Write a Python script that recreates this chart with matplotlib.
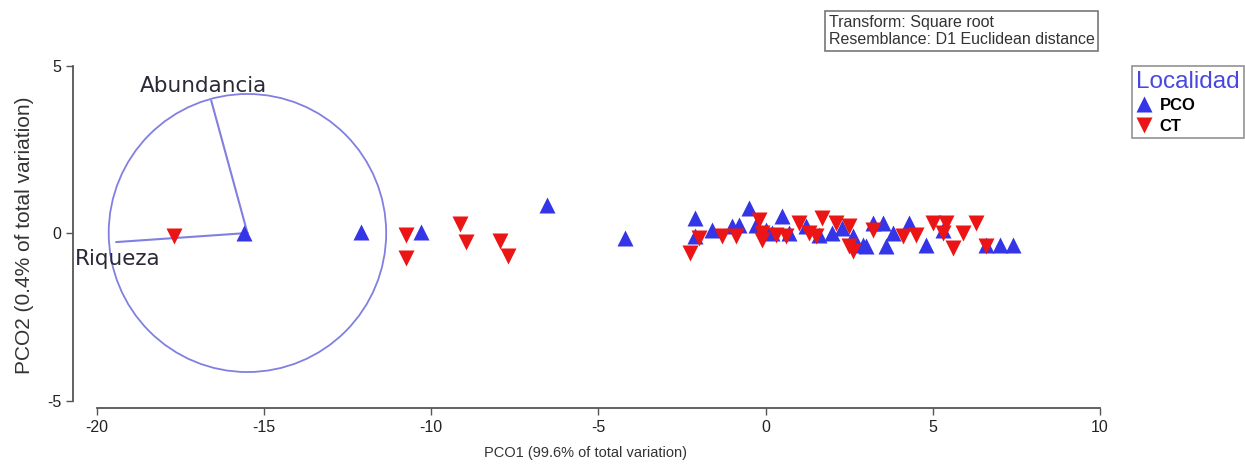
import numpy as np
import matplotlib.pyplot as plt
from matplotlib.patches import Circle
from matplotlib.lines import Line2D

# PCO scores
pco_x = [-15.6, -12.1, -10.3, -6.55, -4.2,
         -2.1, -2.1, -1.6, -1.0, -0.8, -0.5, -0.3, 0.0, 0.2, 0.5, 0.7,
         1.2, 1.6, 2.0, 2.3, 2.6, 2.9, 3.0, 3.2, 3.5, 3.6, 3.8, 4.3, 4.8,
         5.3, 6.6, 7.0, 7.4]
pco_y = [0.0, 0.03, 0.03, 0.85, -0.15,
         0.45, -0.1, 0.1, 0.2, 0.25, 0.75, 0.25, 0.1, 0.0, 0.5, 0.0,
         0.2, -0.05, 0.0, 0.15, -0.1, -0.35, -0.4, 0.3, 0.3, -0.4, 0.0, 0.3, -0.35,
         0.1, -0.35, -0.35, -0.35]

ct_x = [-17.7, -10.75, -10.75, -9.15, -8.95, -7.95, -7.7,
        -2.25, -2.0, -1.3, -0.9, -0.2, -0.1, -0.1, 0.3, 0.6, 1.0,
        1.3, 1.5, 1.7, 2.1, 2.5, 2.5, 2.6, 3.2, 4.1, 4.5, 5.0, 5.3,
        5.4, 5.6, 5.9, 6.3, 6.6]
ct_y = [-0.1, -0.05, -0.75, 0.28, -0.28, -0.25, -0.7,
        -0.6, -0.15, -0.1, -0.1, 0.4, 0.0, -0.2, -0.05, -0.1, 0.3,
        0.0, -0.1, 0.45, 0.3, 0.2, -0.4, -0.55, 0.1, -0.1, -0.05, 0.3, 0.0,
        0.3, -0.45, 0.0, 0.3, -0.4]

# vector overlay
centre = (-15.5, 0.0)
radius = 4.15
vec_names = ['Abundancia', 'Riqueza']
vec_dx = [-1.08, -3.92]
vec_dy = [3.94, -0.27]

xticks = [-20, -15, -10, -5, 0, 5, 10]
yticks = [-5, 0, 5]

blue = '#3535e8'
red = '#ec1515'
circ_col = '#8080e0'

plt.rcParams['font.family'] = ['Liberation Sans', 'DejaVu Sans']
plt.rcParams['axes.unicode_minus'] = False

fig = plt.figure(figsize=(12.45, 4.65), dpi=100)
ax = fig.add_axes([60 / 1245, 45 / 465, 1050 / 1245, 370 / 465])
ax.set_xlim(-21.107, 10.302)
ax.set_ylim(-5.582, 5.463)

ax.add_patch(Circle(centre, radius, fill=False, ec=circ_col, lw=1.3))
for name, dx, dy in zip(vec_names, vec_dx, vec_dy):
    ax.plot([centre[0], centre[0] + dx], [centre[1], centre[1] + dy],
            color=circ_col, lw=1.5, zorder=2)
ax.text(centre[0] + vec_dx[0] - 2.15, centre[1] + vec_dy[0] + 0.45, vec_names[0],
        family='DejaVu Sans', fontsize=15.5, color='#2b2838', va='center')
ax.text(centre[0] + vec_dx[1] - 1.25, centre[1] + vec_dy[1] - 0.5, vec_names[1],
        family='DejaVu Sans', fontsize=15.5, color='#2b2838', va='center')

ax.plot(pco_x, pco_y, '^', color=blue, ms=11, mec='none', ls='none', zorder=3)
ax.plot(ct_x, ct_y, 'v', color=red, ms=11, mec='none', ls='none', zorder=3)

for s in ['top', 'right']:
    ax.spines[s].set_visible(False)
ax.spines['left'].set_position(('data', -20.72))
ax.spines['bottom'].set_position(('data', -5.224))
ax.spines['left'].set_bounds(-5, 5)
ax.spines['bottom'].set_bounds(-20, 10)
for s in ['left', 'bottom']:
    ax.spines[s].set_color('#555555')
    ax.spines[s].set_linewidth(1.3)
ax.set_xticks(xticks)
ax.set_yticks(yticks)
ax.tick_params(length=5, width=1, color='#555555', labelsize=11.5, labelcolor='#222222')

ax.set_xlabel('PCO1 (99.6% of total variation)', fontsize=10.5, color='#333333', labelpad=8)
ax.set_ylabel('PCO2 (0.4% of total variation)', fontsize=15, color='#333333', labelpad=9)

fig.text(829 / 1245, 1 - 31 / 465,
         'Transform: Square root\nResemblance: D1 Euclidean distance',
         fontsize=11.5, color='#333333', va='center', ha='left', linespacing=1.2,
         bbox=dict(boxstyle='square,pad=0.22', fc='white', ec='#777777', lw=1.2))

handles = [Line2D([], [], marker='^', color=blue, ls='none', ms=12, mec='none'),
           Line2D([], [], marker='v', color=red, ls='none', ms=12, mec='none')]
leg = fig.legend(handles, ['PCO', 'CT'], title='Localidad',
                 loc='upper left', bbox_to_anchor=(1124 / 1245, 1 - 58 / 465),
                 frameon=True, fontsize=12, title_fontsize=17.5,
                 handlelength=0.9, handletextpad=0.5, borderpad=0.25,
                 labelspacing=0.35, alignment='left', fancybox=False)
leg.get_frame().set_edgecolor('#777777')
leg.get_frame().set_linewidth(1.2)
leg.get_title().set_color('#4848e0')
for t in leg.get_texts():
    t.set_fontweight('bold')

fig.savefig('out.png', dpi=100)
